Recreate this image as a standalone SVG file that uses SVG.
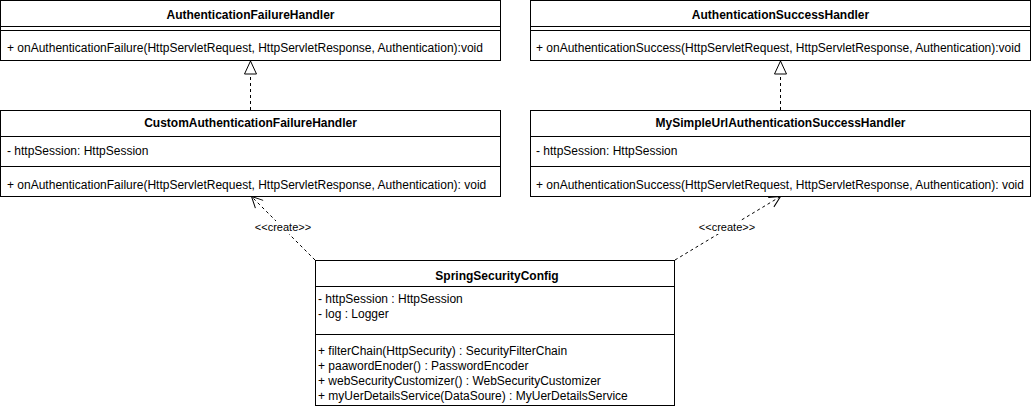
<svg xmlns="http://www.w3.org/2000/svg" width="1031" height="414" viewBox="0 0 1031 414">
<style>
.box{fill:#fff;stroke:#000;stroke-width:1}
.ln{stroke:#000;stroke-width:1;fill:none}
.t{font-family:"Liberation Sans",Arial,sans-serif;font-size:12px;fill:#000}
.b{font-weight:bold;text-anchor:middle}
.lbl{font-family:"Liberation Sans",Arial,sans-serif;font-size:11px;fill:#000;text-anchor:middle}
.dash{stroke:#000;stroke-width:1;fill:none;stroke-dasharray:3 3}
</style>
<defs>
<marker id="tri" markerWidth="16" markerHeight="14" refX="14" refY="7" orient="auto" markerUnits="userSpaceOnUse">
<path d="M1,1 L14,7 L1,13 Z" fill="#fff" stroke="#000" stroke-width="1"/>
</marker>
<marker id="open" markerWidth="14" markerHeight="14" refX="12" refY="7" orient="auto" markerUnits="userSpaceOnUse">
<path d="M1,1.5 L12,7 L1,12.5" fill="none" stroke="#000" stroke-width="1"/>
</marker>
</defs>
<g id="connectors">
<line class="dash" x1="250.5" y1="110" x2="250.5" y2="61" marker-end="url(#tri)"/>
<line class="dash" x1="780.5" y1="110" x2="780.5" y2="61" marker-end="url(#tri)"/>
<line class="dash" x1="315" y1="260" x2="251.5" y2="196.5" marker-end="url(#open)"/>
<line class="dash" x1="675" y1="260" x2="780.5" y2="196.5" marker-end="url(#open)"/>
<rect x="254" y="221" width="58" height="13" fill="#fff"/>
<text class="lbl" x="283" y="231">&lt;&lt;create&gt;&gt;</text>
<rect x="698" y="221" width="58" height="13" fill="#fff"/>
<text class="lbl" x="727" y="231">&lt;&lt;create&gt;&gt;</text>
</g>
<g id="AuthenticationFailureHandler">
<rect class="box" x="0.5" y="0.5" width="500" height="60"/>
<line class="ln" x1="0.5" y1="26.5" x2="500.5" y2="26.5"/>
<line class="ln" x1="0.5" y1="30.5" x2="500.5" y2="30.5"/>
<text class="t b" x="250.5" y="19">AuthenticationFailureHandler</text>
<text class="t" x="7" y="52">+ onAuthenticationFailure(HttpServletRequest, HttpServletResponse, Authentication):void</text>
</g>
<g id="AuthenticationSuccessHandler">
<rect class="box" x="530.5" y="0.5" width="500" height="60"/>
<line class="ln" x1="530.5" y1="26.5" x2="1030.5" y2="26.5"/>
<line class="ln" x1="530.5" y1="30.5" x2="1030.5" y2="30.5"/>
<text class="t b" x="780.5" y="19">AuthenticationSuccessHandler</text>
<text class="t" x="536" y="52">+ onAuthenticationSuccess(HttpServletRequest, HttpServletResponse, Authentication):void</text>
</g>
<g id="CustomAuthenticationFailureHandler">
<rect class="box" x="0.5" y="110.5" width="500" height="86"/>
<line class="ln" x1="0.5" y1="136.5" x2="500.5" y2="136.5"/>
<line class="ln" x1="0.5" y1="166.5" x2="500.5" y2="166.5"/>
<text class="t b" x="250.5" y="127">CustomAuthenticationFailureHandler</text>
<text class="t" x="7" y="155">- httpSession: HttpSession</text>
<text class="t" x="7" y="189">+ onAuthenticationFailure(HttpServletRequest, HttpServletResponse, Authentication): void</text>
</g>
<g id="MySimpleUrlAuthenticationSuccessHandler">
<rect class="box" x="530.5" y="110.5" width="500" height="86"/>
<line class="ln" x1="530.5" y1="136.5" x2="1030.5" y2="136.5"/>
<line class="ln" x1="530.5" y1="166.5" x2="1030.5" y2="166.5"/>
<text class="t b" x="780.5" y="127">MySimpleUrlAuthenticationSuccessHandler</text>
<text class="t" x="536" y="155">- httpSession: HttpSession</text>
<text class="t" x="536" y="189">+ onAuthenticationSuccess(HttpServletRequest, HttpServletResponse, Authentication): void</text>
</g>
<g id="SpringSecurityConfig">
<rect class="box" x="315.5" y="260.5" width="359" height="145"/>
<line class="ln" x1="315.5" y1="286.5" x2="674.5" y2="286.5"/>
<line class="ln" x1="315.5" y1="334.5" x2="674.5" y2="334.5"/>
<text class="t b" x="497" y="280">SpringSecurityConfig</text>
<text class="t" x="318" y="303">- httpSession : HttpSession</text>
<text class="t" x="318" y="318">- log : Logger</text>
<text class="t" x="318" y="355">+ filterChain(HttpSecurity) : SecurityFilterChain</text>
<text class="t" x="318" y="370">+ paawordEnoder() : PasswordEncoder</text>
<text class="t" x="318" y="385">+ webSecurityCustomizer() : WebSecurityCustomizer</text>
<text class="t" x="318" y="400">+ myUerDetailsService(DataSoure) : MyUerDetailsService</text>
</g>
</svg>
